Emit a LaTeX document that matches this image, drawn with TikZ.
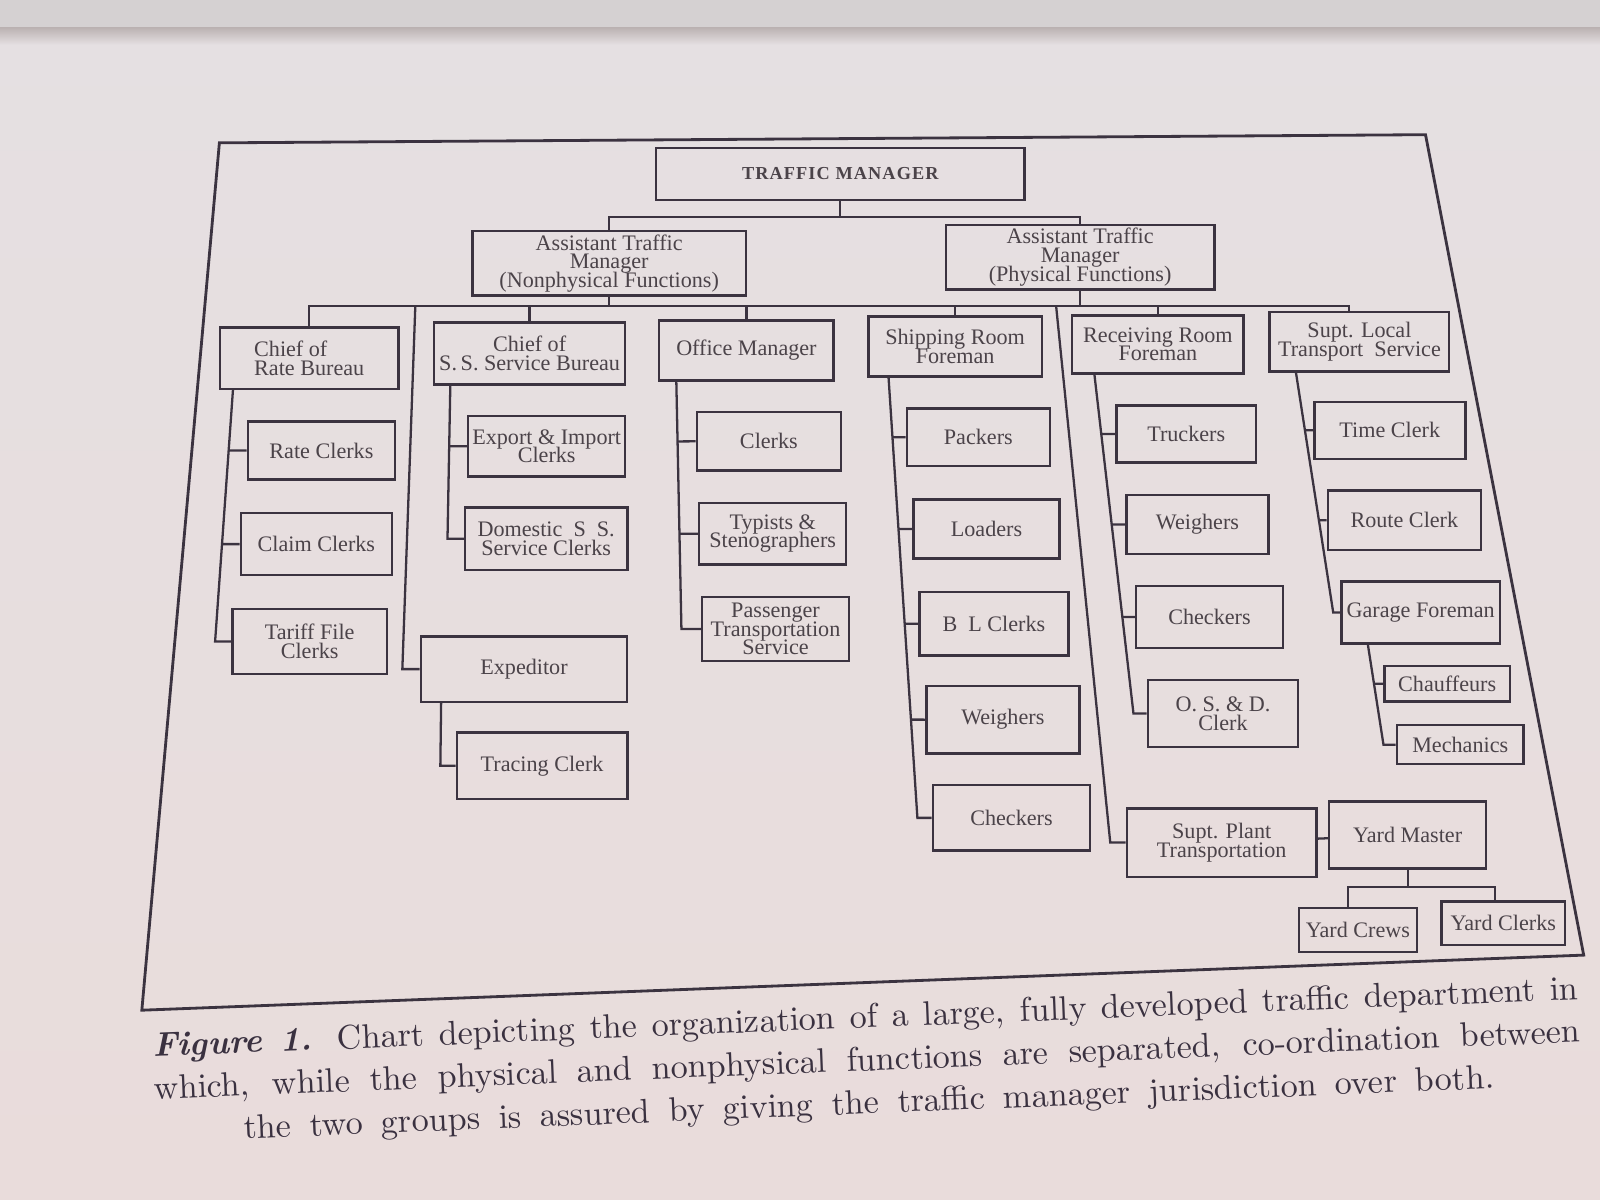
\documentclass[tikz,border=0pt]{standalone}
\usepackage{fontspec}
\usepackage{tikz}
\usetikzlibrary{calc}
\newfontfamily\chartfont{Liberation Serif}
\definecolor{Ink}     {HTML}{3B3340}
\definecolor{BoxText} {HTML}{4B4349}
\definecolor{CapInk}  {HTML}{3A3140}
\definecolor{PageTop} {HTML}{E5E0E2}
\definecolor{PageLow} {HTML}{E9DCDB}
\definecolor{TopBand} {HTML}{D5D1D2}
\definecolor{Fold}    {HTML}{BBB2B2}
\newlength{\pxu}
\setlength{\pxu}{0.10204mm}
\tikzset{
  ubox/.style={rectangle,draw=Ink,line width=0.7pt,inner sep=1pt,align=center,
               text=BoxText,font=\chartfont\fontsize{6.3}{5.3}\selectfont\lineskiplimit-6pt},
  tbox/.style={ubox,font=\chartfont\fontsize{5.2}{6}\selectfont\bfseries\addfontfeatures{LetterSpace=6}},
  conn/.style={draw=Ink,line width=0.65pt},
  pageframe/.style={draw=Ink,line width=0.8pt,line join=miter},
  captext/.style={align=center,text=CapInk,font=\fontsize{9.7}{12.2}\selectfont\lineskiplimit-6pt},
}

\begin{document}
\begin{tikzpicture}[x=0.10204mm,y=-0.10204mm]

  \useasboundingbox (0,0) rectangle (1568,1176);
  \shade[top color=PageTop,bottom color=PageLow] (0,0) rectangle (1568,1176);
  \fill[TopBand] (0,0) rectangle (1568,27);
  \shade[top color=Fold,bottom color=PageTop] (0,27) rectangle (1568,44);

  \draw[pageframe] (215,140) -- (1397,132) -- (1552,936) -- (139,990) -- cycle;

  \node[tbox,minimum width=361\pxu,minimum height=51\pxu] (tm) at (823.5,170.5) {TRAFFIC MANAGER};

  \node[ubox,minimum width=268\pxu,minimum height=58\pxu] (atmn) at (597,258)
    {Assistant Traffic\\Manager\\(Nonphysical Functions)};
  \node[ubox,minimum width=263\pxu,minimum height=58\pxu] (atmp) at (1058.5,252)
    {Assistant Traffic\\Manager\\(Physical Functions)};

  \node[ubox,align=left,minimum width=175\pxu,minimum height=60\pxu] (crb) at (303,351) {Chief of\\Rate Bureau};
  \node[ubox,minimum width=187\pxu,minimum height=61\pxu] (css) at (519,346.5) {Chief of\\S.\,S. Service Bureau};
  \node[ubox,minimum width=171\pxu,minimum height=59\pxu] (om) at (731.5,343.5) {Office Manager};
  \node[ubox,minimum width=170\pxu,minimum height=59\pxu] (srf) at (936,339.5) {Shipping Room\\Foreman};
  \node[ubox,minimum width=168\pxu,minimum height=57\pxu] (rrf) at (1134.75,337.5) {Receiving Room\\Foreman};
  \node[ubox,minimum width=176\pxu,minimum height=58\pxu] (slt) at (1332.25,335) {Supt. Local\\Transport\enspace Service};

  \node[ubox,minimum width=144\pxu,minimum height=57\pxu] (rc) at (315,441.5) {Rate Clerks};
  \node[ubox,minimum width=148\pxu,minimum height=61\pxu] (cc) at (310,533.25) {Claim Clerks};
  \node[ubox,minimum width=151\pxu,minimum height=64\pxu] (tfc) at (303.5,628.75) {Tariff File\\Clerks};

  \node[ubox,minimum width=154\pxu,minimum height=59\pxu] (eic) at (535.75,437.25) {Export \& Import\\Clerks};
  \node[ubox,minimum width=159\pxu,minimum height=61\pxu] (dsc) at (535.25,528) {Domestic\enspace S\enspace S.\\Service Clerks};
  \node[ubox,minimum width=202\pxu,minimum height=64\pxu] (expd) at (513.5,655.75) {Expeditor};
  \node[ubox,minimum width=167\pxu,minimum height=65\pxu] (trc) at (531.25,750.5) {Tracing Clerk};

  \node[ubox,minimum width=141\pxu,minimum height=57\pxu] (clk) at (753.5,432.5) {Clerks};
  \node[ubox,minimum width=144\pxu,minimum height=60\pxu] (tys) at (757.25,523) {Typists \&\\Stenographers};
  \node[ubox,minimum width=144\pxu,minimum height=63\pxu] (pts) at (760,616.5) {Passenger\\Transportation\\Service};

  \node[ubox,minimum width=140\pxu,minimum height=56\pxu] (pck) at (958.75,428.5) {Packers};
  \node[ubox,minimum width=143\pxu,minimum height=58\pxu] (ldr) at (966.75,518.5) {Loaders};
  \node[ubox,minimum width=146\pxu,minimum height=62\pxu] (blc) at (974,611.25) {B\enspace L Clerks};
  \node[ubox,minimum width=150\pxu,minimum height=66\pxu] (wgh) at (982.75,705.25) {Weighers};
  \node[ubox,minimum width=154\pxu,minimum height=64\pxu] (chk) at (991.25,801.5) {Checkers};

  \node[ubox,minimum width=137\pxu,minimum height=56\pxu] (trk) at (1162.5,425.25) {Truckers};
  \node[ubox,minimum width=139\pxu,minimum height=58\pxu] (wgr) at (1173.5,514) {Weighers};
  \node[ubox,minimum width=144\pxu,minimum height=61\pxu] (chr) at (1185.25,604.75) {Checkers};
  \node[ubox,minimum width=147\pxu,minimum height=66\pxu] (osd) at (1198.5,699.25) {O. S. \& D.\\Clerk};
  \node[ubox,minimum width=186\pxu,minimum height=67\pxu] (spt) at (1197.25,825.75) {Supt. Plant\\Transportation};

  \node[ubox,minimum width=148\pxu,minimum height=56\pxu] (tmc) at (1362,421.75) {Time Clerk};
  \node[ubox,minimum width=150\pxu,minimum height=58\pxu] (rtc) at (1376.25,509.75) {Route Clerk};
  \node[ubox,minimum width=155\pxu,minimum height=61\pxu] (gfm) at (1392.25,600.25) {Garage Foreman};
  \node[ubox,minimum width=123\pxu,minimum height=35\pxu] (chf) at (1418.25,670) {Chauffeurs};
  \node[ubox,minimum width=124\pxu,minimum height=38\pxu] (mch) at (1431,729.75) {Mechanics};

  \node[ubox,minimum width=154\pxu,minimum height=66\pxu] (ym) at (1379.5,818.25) {Yard Master};
  \node[ubox,minimum width=116\pxu,minimum height=43\pxu] (ycr) at (1330.75,911.25) {Yard Crews};
  \node[ubox,minimum width=121\pxu,minimum height=43\pxu] (ycl) at (1473.25,904.75) {Yard Clerks};

  \coordinate (tbus) at (0,213);
  \coordinate (mbus) at (407,300);
  \coordinate (pdrop) at (1035,300);
  \coordinate (ybus) at (0,869);
  \coordinate (sltin) at ([xshift=-10\pxu]slt.north);
  \coordinate (ycrin) at ([xshift=-10\pxu]ycr.north);
  \coordinate (yclin) at ([xshift=-8\pxu]ycl.north);

  \draw[conn] (tm.south) -- (tm.south |- tbus);
  \draw[conn] (atmn.north) |- (atmp.north |- tbus) -- (atmp.north);

  \draw[conn] (crb.north) |- (sltin |- mbus) -- (sltin);
  \draw[conn] (atmn.south) -- (atmn.south |- mbus);
  \draw[conn] (atmp.south) -- (atmp.south |- mbus);
  \draw[conn] (css.north) -- (css.north |- mbus);
  \draw[conn] (om.north) -- (om.north |- mbus);
  \draw[conn] (srf.north) -- (srf.north |- mbus);
  \draw[conn] (rrf.north) -- (rrf.north |- mbus);

  \draw[conn] (mbus) -- ([xshift=-17\pxu]expd.west) -- (expd.west);
  \draw[conn] (pdrop) -- ([xshift=-15\pxu]spt.west) -- (spt.west);

  \coordinate (rt1) at ([xshift=14\pxu]crb.south west);
  \coordinate (rt2) at ([xshift=-16\pxu]tfc.west);
  \draw[conn] (rt1) -- (rt2) -- (tfc.west);
  \draw[conn] (intersection of rt1--rt2 and rc.west--rc.east) -- (rc.west);
  \draw[conn] (intersection of rt1--rt2 and cc.west--cc.east) -- (cc.west);

  \coordinate (st1) at ([xshift=17\pxu]css.south west);
  \coordinate (st2) at ([xshift=-16\pxu]dsc.west);
  \draw[conn] (st1) -- (st2) -- (dsc.west);
  \draw[conn] (intersection of st1--st2 and eic.west--eic.east) -- (eic.west);

  \draw[conn] ([xshift=21\pxu]expd.south west) -- ([xshift=-15\pxu]trc.west) -- (trc.west);

  \coordinate (ot1) at ([xshift=18\pxu]om.south west);
  \coordinate (ot2) at ([xshift=-19\pxu]pts.west);
  \draw[conn] (ot1) -- (ot2) -- (pts.west);
  \draw[conn] (intersection of ot1--ot2 and clk.west--clk.east) -- (clk.west);
  \draw[conn] (intersection of ot1--ot2 and tys.west--tys.east) -- (tys.west);

  \coordinate (ft1) at ([xshift=21\pxu]srf.south west);
  \coordinate (ft2) at ([xshift=-14\pxu]chk.west);
  \draw[conn] (ft1) -- (ft2) -- (chk.west);
  \draw[conn] (intersection of ft1--ft2 and pck.west--pck.east) -- (pck.west);
  \draw[conn] (intersection of ft1--ft2 and ldr.west--ldr.east) -- (ldr.west);
  \draw[conn] (intersection of ft1--ft2 and blc.west--blc.east) -- (blc.west);
  \draw[conn] (intersection of ft1--ft2 and wgh.west--wgh.east) -- (wgh.west);

  \coordinate (vt1) at ([xshift=23\pxu]rrf.south west);
  \coordinate (vt2) at ([xshift=-13\pxu]osd.west);
  \draw[conn] (vt1) -- (vt2) -- (osd.west);
  \draw[conn] (intersection of vt1--vt2 and trk.west--trk.east) -- (trk.west);
  \draw[conn] (intersection of vt1--vt2 and wgr.west--wgr.east) -- (wgr.west);
  \draw[conn] (intersection of vt1--vt2 and chr.west--chr.east) -- (chr.west);

  \coordinate (lt1) at ([xshift=27\pxu]slt.south west);
  \coordinate (lt2) at ([xshift=-7\pxu]gfm.west);
  \draw[conn] (lt1) -- (lt2) -- (gfm.west);
  \draw[conn] (intersection of lt1--lt2 and tmc.west--tmc.east) -- (tmc.west);
  \draw[conn] (intersection of lt1--lt2 and rtc.west--rtc.east) -- (rtc.west);

  \coordinate (gt1) at ([xshift=27\pxu]gfm.south west);
  \coordinate (gt2) at ([xshift=-12\pxu]mch.west);
  \draw[conn] (gt1) -- (gt2) -- (mch.west);
  \draw[conn] (intersection of gt1--gt2 and chf.west--chf.east) -- (chf.west);

  \draw[conn] (spt) -- (ym);
  \draw[conn] (ym.south) -- (ym.south |- ybus);
  \draw[conn] (ycrin) |- (yclin |- ybus) -- (yclin);

  \node[captext,rotate=2.3] (cap) at (850,1041)
    {\hbox to 406pt{{\bfseries\itshape Figure 1.} Chart depicting the organization of a large, fully developed traffic department in}\\
     \hbox to 406pt{which, while the physical and nonphysical functions are separated, co-ordination between}\\
     \hbox to 356pt{the two groups is assured by giving the traffic manager jurisdiction over both.}};

\end{tikzpicture}
\end{document}
